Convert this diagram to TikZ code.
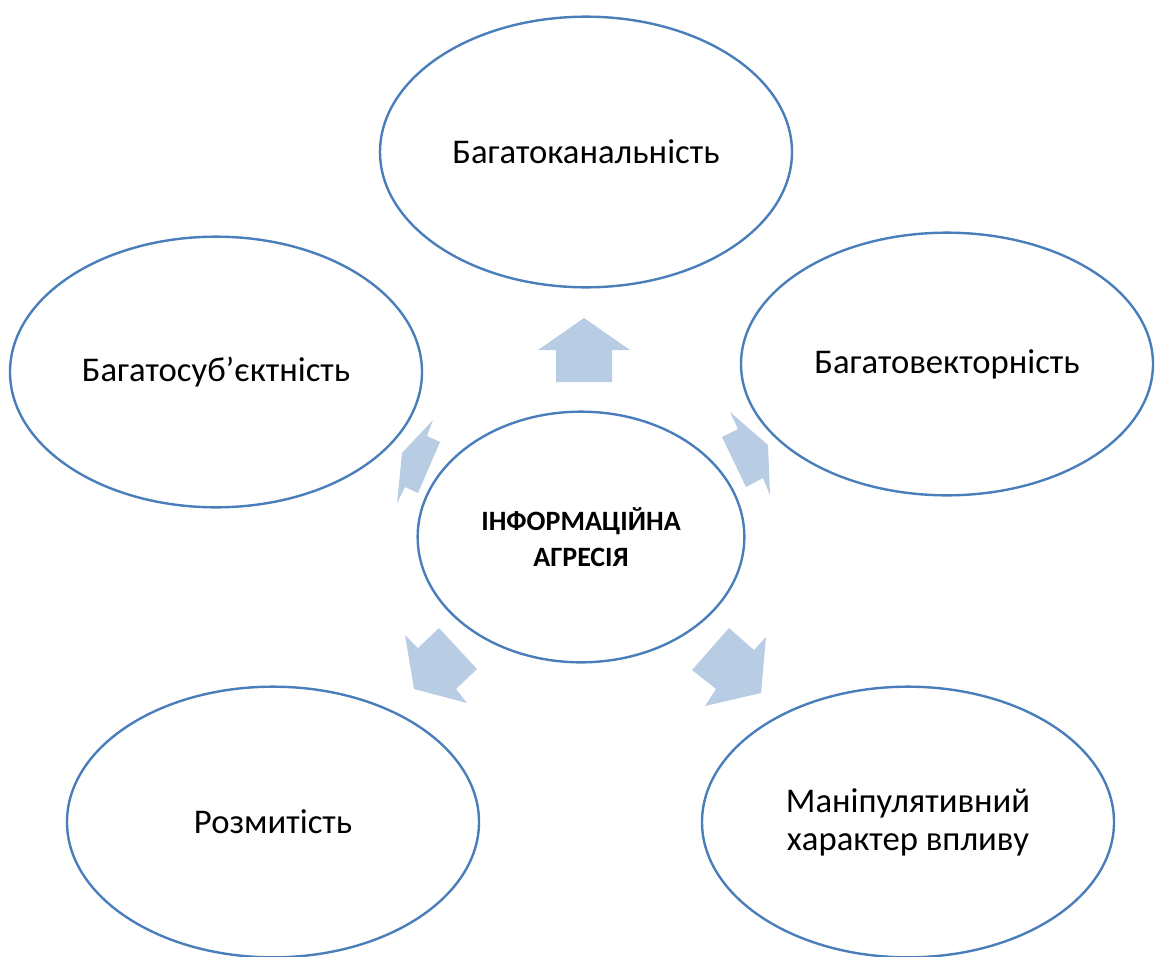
\documentclass[tikz,border=0pt]{standalone}
\usepackage{fontspec}
\setmainfont{Carlito}
\usetikzlibrary{shapes}

\definecolor{ringblue}{HTML}{4A7EBB}
\definecolor{arrowblue}{HTML}{B8CCE4}

\tikzset{
  ring/.style={draw=ringblue, line width=1.8pt, fill=white, shape=ellipse, inner sep=0pt,
    minimum width=309pt, minimum height=203pt, align=center,
    font=\fontsize{26}{28.5}\selectfont},
  core/.style={ring, minimum width=245pt, minimum height=188pt,
    font=\fontsize{21}{26.5}\selectfont\bfseries},
  blockarrow/.style={fill=arrowblue}
}

\begin{document}
\begin{tikzpicture}[x=0.75pt, y=-0.75pt]
\useasboundingbox (0,0) rectangle (1155,956);
\node [ring] (kan) at (586,152) {Багатоканальність};
\node [ring] (sub) at (216,372) {Багатосуб’єктність};
\node [ring, minimum height=197pt] (vek) at (947,364) {Багатовекторність};
\node [ring] (roz) at (273,822) {Розмитість};
\node [ring] (man) at (908,822) {Маніпулятивний\\характер впливу};
\node [core] (agr) at (581,537) {ІНФОРМАЦІЙНА\\АГРЕСІЯ};
\fill [blockarrow] (584,318) -- (630,350) -- (612,350) -- (612,382) -- (556,382) -- (556,350) -- (538,350) -- cycle;
\fill [blockarrow] (433,420) -- (427,436) -- (440,442) -- (418,493) -- (405,487) -- (397,503) -- (402,453) -- cycle;
\fill [blockarrow] (730,412) -- (738,429) -- (722,437) -- (746,487) -- (763,478) -- (770,495) -- (768,445) -- cycle;
\fill [blockarrow] (405,635) -- (418,648) -- (439,628) -- (477,669) -- (456,689) -- (467,703) -- (414,689) -- cycle;
\fill [blockarrow] (766,637) -- (754,650) -- (729,628) -- (692,670) -- (716,689) -- (705,706) -- (761,693) -- cycle;
\end{tikzpicture}
\end{document}
